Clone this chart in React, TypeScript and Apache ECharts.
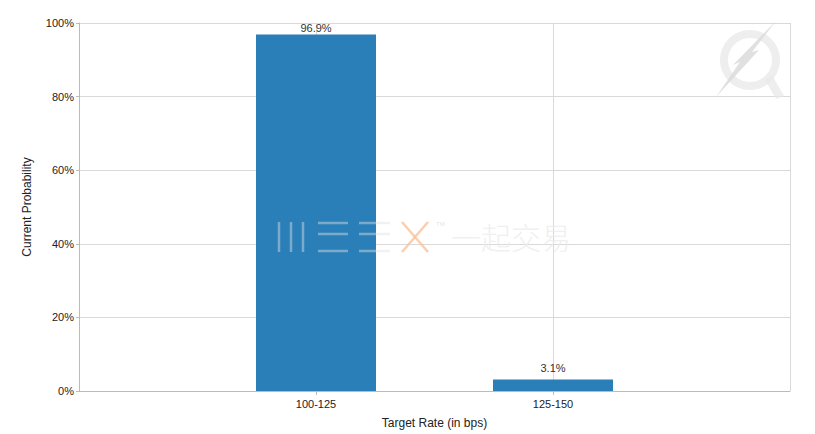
import React, { useEffect, useRef } from "react";
import * as echarts from "echarts";

const categories = ["", "100-125", "125-150", ""];
const probabilities: (number | null)[] = [null, 96.9, 3.1, null];
const yTicks = [0, 20, 40, 60, 80, 100];
const xAxisName = "Target Rate (in bps)";
const yAxisName = "Current Probability";

const FONT = "Arial, 'Liberation Sans', sans-serif";

export default function App() {
  const ref = useRef<HTMLDivElement>(null);
  useEffect(() => {
    if (!ref.current) return;
    const chart = echarts.init(ref.current, undefined, { renderer: "svg" });
    const wmLine = "rgba(225,225,225,0.45)";
    const wmStyle = { stroke: wmLine, lineWidth: 2.5 };
    const vLine = (x: number) => ({ type: "line", shape: { x1: x, y1: 222, x2: x, y2: 252 }, style: wmStyle, silent: true, z: 100 });
    const hLine = (x1: number, x2: number, y: number) => ({ type: "line", shape: { x1, y1: y, x2, y2: y }, style: wmStyle, silent: true, z: 100 });
    chart.setOption({
      animation: false,
      textStyle: { fontFamily: FONT },
      grid: { left: 79, right: 25, top: 23, bottom: 40, containLabel: false },
      xAxis: {
        type: "category",
        data: categories,
        boundaryGap: false,
        name: xAxisName,
        nameLocation: "middle",
        nameGap: 26,
        nameTextStyle: { color: "#222", fontSize: 12, fontFamily: FONT },
        axisLine: { show: true, lineStyle: { color: "#bbbbbb", width: 1 } },
        axisTick: { show: true, length: 4, lineStyle: { color: "#bbbbbb" }, interval: (i: number, v: string) => v !== "" },
        axisLabel: { color: "#222", fontSize: 11, margin: 7, fontFamily: FONT },
        splitLine: { show: true, lineStyle: { color: "#d9d9d9", width: 1 } },
      },
      yAxis: {
        type: "value",
        min: yTicks[0],
        max: yTicks[yTicks.length - 1],
        interval: 20,
        name: yAxisName,
        nameLocation: "middle",
        nameGap: 46,
        nameTextStyle: { color: "#222", fontSize: 12, fontFamily: FONT },
        axisLine: { show: true, lineStyle: { color: "#bbbbbb", width: 1 } },
        axisTick: { show: true, length: 3, lineStyle: { color: "#bbbbbb" } },
        axisLabel: { color: "#222", fontSize: 11, margin: 5, formatter: "{value}%", fontFamily: FONT },
        splitLine: { show: true, lineStyle: { color: "#d9d9d9", width: 1 } },
      },
      series: [
        {
          type: "bar",
          data: probabilities.map((v) =>
            v === null ? "-" : { value: v, label: { distance: v > 90 ? 1 : 6 } }
          ),
          barWidth: 120,
          itemStyle: { color: "#2a7fb8" },
          label: {
            show: true,
            position: "top",
            color: "#333",
            fontSize: 11,
            fontFamily: FONT,
            formatter: (p: any) => `${p.value}%`,
          },
        },
      ],
      graphic: [
        vLine(279), vLine(291), vLine(303),
        hLine(318, 348, 223), hLine(318, 348, 234), hLine(318, 348, 251),
        hLine(359, 390, 223), hLine(359, 390, 234), hLine(359, 390, 251),
        { type: "line", shape: { x1: 402, y1: 222, x2: 428, y2: 252 }, style: { stroke: "rgba(250,190,150,0.75)", lineWidth: 2.5 }, silent: true, z: 100 },
        { type: "line", shape: { x1: 428, y1: 222, x2: 402, y2: 252 }, style: { stroke: "rgba(250,190,150,0.75)", lineWidth: 2.5 }, silent: true, z: 100 },
        { type: "text", x: 436, y: 221, style: { text: "TM", fill: "rgba(215,215,215,0.7)", fontSize: 6, fontFamily: FONT }, silent: true, z: 100 },
        { type: "text", x: 451, y: 221, style: { text: "一起交易", fill: "rgba(236,236,236,0.8)", fontSize: 30, fontFamily: "'Noto Sans CJK SC', sans-serif", fontWeight: 300 }, silent: true, z: 100 },
        { type: "ring", shape: { cx: 750, cy: 60, r: 30, r0: 22 }, style: { fill: "rgba(232,232,232,0.75)" }, silent: true, z: 100 },
        { type: "polygon", shape: { points: [[765, 80], [772, 75], [784, 96], [776, 99]] }, style: { fill: "rgba(232,232,232,0.75)" }, silent: true, z: 100 },
        { type: "polygon", shape: { points: [[776, 21], [752, 52], [759, 50], [716, 97], [740, 62], [733, 65], [769, 28]] }, style: { fill: "rgba(218,218,218,0.85)" }, silent: true, z: 101 },
      ],
    });
    return () => chart.dispose();
  }, []);
  return <div ref={ref} style={{ width: 815, height: 434, position: "absolute", left: 0, top: 0 }} />;
}
